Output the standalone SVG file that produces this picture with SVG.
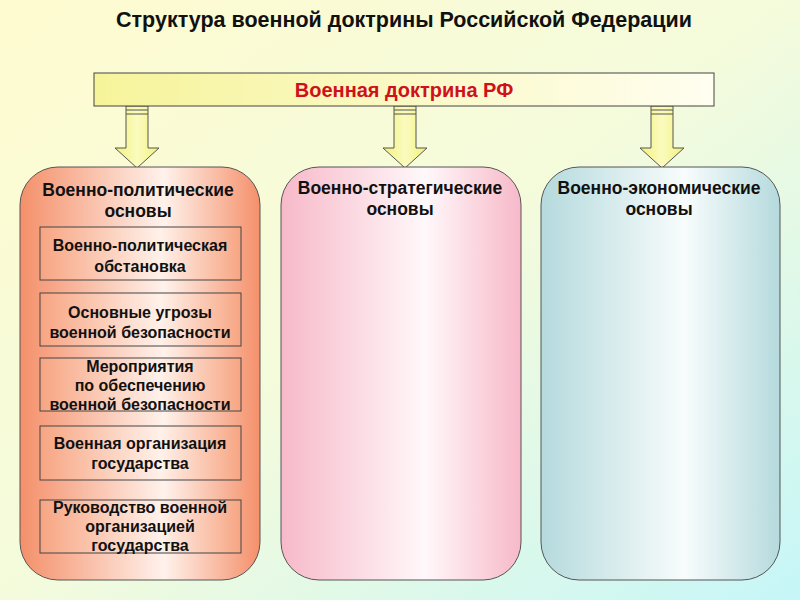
<svg xmlns="http://www.w3.org/2000/svg" width="800" height="600" viewBox="0 0 800 600">
<defs>
<linearGradient id="bg" x1="0" y1="0" x2="1" y2="1"><stop offset="0" stop-color="#fffbd0"/><stop offset="0.5" stop-color="#f4fbdc"/><stop offset="1" stop-color="#c6f6f8"/></linearGradient>
<linearGradient id="ban" x1="0" y1="0" x2="1" y2="0"><stop offset="0" stop-color="#f6f49a"/><stop offset="1" stop-color="#fffef0"/></linearGradient>
<linearGradient id="arr" x1="0" y1="0" x2="1" y2="0"><stop offset="0" stop-color="#f2f27a"/><stop offset="0.5" stop-color="#fbfbc0"/><stop offset="1" stop-color="#f2f27a"/></linearGradient>
<linearGradient id="gL" x1="0" y1="0" x2="1" y2="0"><stop offset="0" stop-color="#f4906a"/><stop offset="0.6" stop-color="#fff2ec"/><stop offset="1" stop-color="#f4906a"/></linearGradient>
<linearGradient id="gM" x1="0" y1="0" x2="1" y2="0"><stop offset="0" stop-color="#f7b9c9"/><stop offset="0.6" stop-color="#fff8fa"/><stop offset="1" stop-color="#f7b9c9"/></linearGradient>
<linearGradient id="gR" x1="0" y1="0" x2="1" y2="0"><stop offset="0" stop-color="#b5dadd"/><stop offset="0.6" stop-color="#f8fcfc"/><stop offset="1" stop-color="#b5dadd"/></linearGradient>
<linearGradient id="gI" x1="0" y1="0" x2="1" y2="0"><stop offset="0" stop-color="#f7a582"/><stop offset="0.6" stop-color="#fff1ea"/><stop offset="1" stop-color="#f7a582"/></linearGradient>
<g id="arrow"><path d="M-11,0 H11 V42 H22 L0,62 L-22,42 H-11 Z" fill="url(#arr)" stroke="#555" stroke-width="1"/><path d="M-11,4 H11 M-11,8 H11" stroke="#555" stroke-width="1"/></g>
</defs>
<style>
text{font-family:"Liberation Sans",Arial,sans-serif;font-weight:bold;text-anchor:middle;fill:#111}
.big{stroke:#555;stroke-width:1}
.in{fill:url(#gI);stroke:#444;stroke-width:1}
.t{font-size:16px}
.h{font-size:17.5px}
</style>
<rect width="800" height="600" fill="url(#bg)"/>
<text x="404" y="27" font-size="21.5">Структура военной доктрины Российской Федерации</text>
<g id="connectors">
<use href="#arrow" x="137" y="106"/>
<use href="#arrow" x="405" y="106"/>
<use href="#arrow" x="662" y="106"/>
</g>
<g id="banner"><rect x="94" y="73" width="620" height="33" fill="url(#ban)" stroke="#444"/><text x="404" y="97" font-size="20" style="fill:#d0101a">Военная доктрина РФ</text></g>
<g id="left"><rect class="big" x="20" y="167" width="240" height="413" rx="38" fill="url(#gL)"/><text class="h" x="138" y="196">Военно-политические</text><text class="h" x="138" y="217">основы</text></g>
<g id="mid"><rect class="big" x="281" y="167" width="240" height="413" rx="38" fill="url(#gM)"/><text class="h" x="400" y="194">Военно-стратегические</text><text class="h" x="400" y="215">основы</text></g>
<g id="right"><rect class="big" x="541" y="167" width="239" height="413" rx="38" fill="url(#gR)"/><text class="h" x="659" y="194">Военно-экономические</text><text class="h" x="659" y="215">основы</text></g>
<g id="n1"><rect class="in" x="40" y="227" width="201" height="53"/><text class="t" x="140" y="251">Военно-политическая</text><text class="t" x="140" y="272">обстановка</text></g>
<g id="n2"><rect class="in" x="40" y="293" width="201" height="53"/><text class="t" x="140" y="318">Основные угрозы</text><text class="t" x="140" y="338">военной безопасности</text></g>
<g id="n3"><rect class="in" x="40" y="358" width="201" height="53"/><text class="t" x="140" y="372">Мероприятия</text><text class="t" x="140" y="391">по обеспечению</text><text class="t" x="140" y="410">военной безопасности</text></g>
<g id="n4"><rect class="in" x="40" y="426" width="201" height="54"/><text class="t" x="140" y="449">Военная организация</text><text class="t" x="140" y="469">государства</text></g>
<g id="n5"><rect class="in" x="40" y="500" width="201" height="53"/><text class="t" x="140" y="513">Руководство военной</text><text class="t" x="140" y="532">организацией</text><text class="t" x="140" y="551">государства</text></g>
</svg>
